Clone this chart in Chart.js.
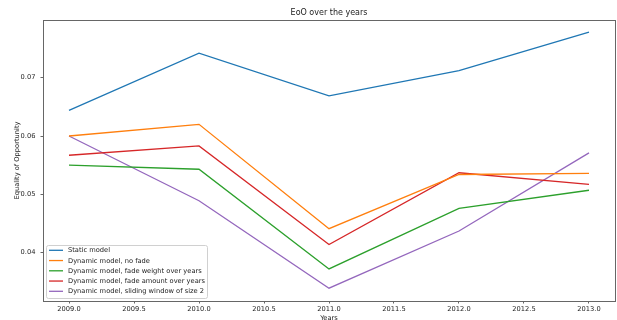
<!DOCTYPE html>
<html lang="en">
<head>
    <meta charset="UTF-8">
    <script src="https://cdn.jsdelivr.net/npm/chart.js"></script>
    <title>EoO over the years</title>
    <style>
        body { margin: 0; background: #fff; }
    </style>
</head>
<body>
    <canvas id="eooChart" width="617" height="320"></canvas>
    <script>
        // data
        const years = [2009, 2010, 2011, 2012, 2013]
        const staticModel = [0.0644, 0.0742, 0.0669, 0.0712, 0.0778]
        const noFade = [0.0600, 0.0620, 0.0441, 0.0534, 0.0536]
        const fadeWeight = [0.0550, 0.0543, 0.0372, 0.0476, 0.0507]
        const fadeAmount = [0.0567, 0.0583, 0.0414, 0.0537, 0.0517]
        const slidingWindow = [0.0600, 0.0489, 0.0339, 0.0437, 0.0571]

        const seriesLabels = [
            'Static model',
            'Dynamic model, no fade',
            'Dynamic model, fade weight over years',
            'Dynamic model, fade amount over years',
            'Dynamic model, sliding window of size 2'
        ]
        const xTicks = [2009.0, 2009.5, 2010.0, 2010.5, 2011.0, 2011.5, 2012.0, 2012.5, 2013.0]
        const yTicks = [0.04, 0.05, 0.06, 0.07]

        const colors = ['#1f77b4', '#ff7f0e', '#2ca02c', '#d62728', '#9467bd']
        const allSeries = [staticModel, noFade, fadeWeight, fadeAmount, slidingWindow]

        const FONT = '"DejaVu Sans", sans-serif'

        // axes box, title, axis labels and legend drawn like matplotlib
        const mplLook = {
            id: 'mplLook',
            afterDatasetsDraw(chart) {
                const c = chart.ctx
                const a = chart.chartArea
                c.save()
                c.strokeStyle = '#666'
                c.lineWidth = 1
                c.strokeRect(Math.round(a.left) + 0.5, Math.round(a.top) + 0.5,
                    Math.round(a.right - a.left), Math.round(a.bottom - a.top))

                c.fillStyle = '#222'
                c.textAlign = 'center'
                c.textBaseline = 'middle'
                c.font = '8px ' + FONT
                c.fillText('EoO over the years', (a.left + a.right) / 2, 13)

                c.font = '6.7px ' + FONT
                c.fillText('Years', (a.left + a.right) / 2, 318)
                c.save()
                c.translate(17, (a.top + a.bottom) / 2)
                c.rotate(-Math.PI / 2)
                c.fillText('Equality of Opportunity', 0, 0)
                c.restore()

                // legend, lower left
                const lx = 46.5, ly = 245.5, lw = 161, lh = 53
                c.fillStyle = 'rgba(255,255,255,0.8)'
                c.strokeStyle = '#d0d0d0'
                c.beginPath()
                c.roundRect(lx, ly, lw, lh, 2)
                c.fill()
                c.stroke()
                c.textAlign = 'left'
                chart.data.datasets.forEach((ds, i) => {
                    const ry = 250.3 + i * 10.25
                    c.strokeStyle = ds.borderColor
                    c.lineWidth = 1.3
                    c.beginPath()
                    c.moveTo(49, ry)
                    c.lineTo(63, ry)
                    c.stroke()
                    c.fillStyle = '#222'
                    c.fillText(ds.label, 68, ry + 0.3)
                })
                c.restore()
            }
        }

        const ctx = document.getElementById('eooChart').getContext('2d')
        const eooChart = new Chart(ctx, {
            type: 'line',
            data: {
                datasets: allSeries.map((vals, i) => ({
                    label: seriesLabels[i],
                    data: vals.map((v, j) => ({ x: years[j], y: v })),
                    borderColor: colors[i],
                    backgroundColor: colors[i],
                    borderWidth: 1.3,
                    pointRadius: 0,
                    tension: 0,
                    fill: false
                }))
            },
            options: {
                responsive: false,
                animation: false,
                layout: { padding: { top: 20, right: 2, left: 0, bottom: 0 } },
                plugins: {
                    legend: { display: false },
                    title: { display: false },
                    tooltip: { enabled: false }
                },
                scales: {
                    x: {
                        type: 'linear',
                        min: 2008.8,
                        max: 2013.2,
                        afterFit: s => { s.height = 19 },
                        afterBuildTicks: s => { s.ticks = xTicks.map(v => ({ value: v })) },
                        border: { display: false },
                        grid: { drawOnChartArea: false, drawTicks: true, tickLength: 2.5, color: '#666' },
                        ticks: {
                            padding: 1.5,
                            maxRotation: 0,
                            autoSkip: false,
                            color: '#222',
                            font: { family: FONT, size: 6.7 },
                            callback: v => Number(v).toFixed(1)
                        }
                    },
                    y: {
                        min: 0.0317,
                        max: 0.0799,
                        afterFit: s => { s.width = 43 },
                        afterBuildTicks: s => { s.ticks = yTicks.map(v => ({ value: v })) },
                        border: { display: false },
                        grid: { drawOnChartArea: false, drawTicks: true, tickLength: 2.5, color: '#666' },
                        ticks: {
                            padding: 5,
                            autoSkip: false,
                            color: '#222',
                            font: { family: FONT, size: 6.7 },
                            callback: v => Number(v).toFixed(2)
                        }
                    }
                }
            },
            plugins: [mplLook]
        })
    </script>
</body>
</html>
